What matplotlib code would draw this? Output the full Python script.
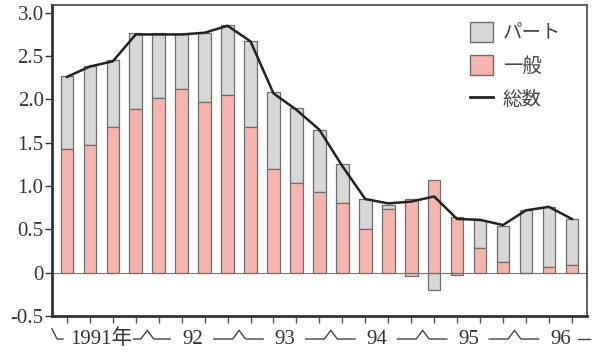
import matplotlib
matplotlib.use("Agg")
import matplotlib.pyplot as plt
import numpy as np
from matplotlib.patches import Patch
from matplotlib.lines import Line2D

plt.rcParams['font.family'] = ['Liberation Serif', 'Noto Sans CJK JP', 'DejaVu Sans']

# quarterly, 1991 Q1 .. 1996 Q3
general = [1.43, 1.47, 1.68, 1.89, 2.02, 2.12, 1.97, 2.05, 1.68, 1.20, 1.03, 0.93,
           0.81, 0.50, 0.73, 0.85, 1.07, 0.64, 0.29, 0.12, 0.00, 0.07, 0.09]
part = [0.84, 0.92, 0.77, 0.88, 0.75, 0.64, 0.80, 0.81, 1.00, 0.89, 0.87, 0.72,
        0.44, 0.35, 0.05, -0.04, -0.20, -0.03, 0.32, 0.42, 0.72, 0.69, 0.53]
total = [2.26, 2.38, 2.44, 2.75, 2.75, 2.75, 2.77, 2.85, 2.67, 2.07, 1.88, 1.65,
         1.23, 0.85, 0.80, 0.82, 0.88, 0.62, 0.61, 0.55, 0.72, 0.76, 0.62]
year_labels = ['1991年', '92', '93', '94', '95', '96']
year_sizes = [4, 4, 4, 4, 4, 4]
legend_labels = ['パート', '一般', '総数']

pink = '#f4b5ae'
grey = '#d7d7d7'
edge = '#6e6e6e'

fig = plt.figure(figsize=(5.92, 3.53), dpi=100)
ax = fig.add_axes([52/592, 1-316/353, (587-52)/592, (316-5)/353])

x = np.arange(len(general))
gen = np.array(general)
prt = np.array(part)
bottom_part = np.where(prt >= 0, gen, np.minimum(gen, 0))
w = 0.55
ax.bar(x, prt, bottom=bottom_part, width=w, color=grey, edgecolor=edge, linewidth=0.9, zorder=2)
ax.bar(x, gen, width=w, color=pink, edgecolor=edge, linewidth=0.9, zorder=3)
ax.plot(x, total, color='#222222', linewidth=1.8, zorder=4)
ax.axhline(0, color='#777777', linewidth=0.8, zorder=1)

ax.set_xlim(-0.65, 22.66)
ax.set_ylim(-0.5, 3.09)
ax.set_yticks([-0.5, 0, 0.5, 1.0, 1.5, 2.0, 2.5, 3.0])
ax.set_yticklabels(['-0.5', '0', '0.5', '1.0', '1.5', '2.0', '2.5', '3.0'])
ax.set_xticks(x)
ax.set_xticklabels([])
ax.tick_params(axis='y', direction='out', length=5, width=1, labelsize=15, colors='#333333', pad=1)
ax.tick_params(axis='x', direction='out', length=5, width=1, colors='#555555')

for s in ['left', 'bottom']:
    ax.spines[s].set_linewidth(2.0)
    ax.spines[s].set_color('#333333')
for s in ['top', 'right']:
    ax.spines[s].set_linewidth(1.2)
    ax.spines[s].set_color('#444444')

# year labels below axis
trans = ax.get_xaxis_transform()
start = 0
ylab = -0.076
yline = -0.074
yhat = -0.046
for lab, n in zip(year_labels, year_sizes):
    c = start + (n - 1) / 2
    ax.text(c, ylab, lab, transform=trans, ha='center', va='center', fontsize=15, color='#333333', clip_on=False)
    start += n

sep_kw = dict(transform=trans, color='#444444', linewidth=1.0, clip_on=False)
# leading hook
ax.plot([-0.65, -0.43, -0.17], [yhat + 0.005, yline, yline], **sep_kw)
# separators between years
bounds = np.cumsum(year_sizes)[:-1] - 0.5
for i, b in enumerate(bounds):
    left = 0.6 if i == 0 else 1.1
    right = 1.0 if i == 0 else 1.05
    ax.plot([b - left, b - 0.28, b, b + 0.28, b + right],
            [yline, yline, yhat, yline, yline], **sep_kw)
# trailing dash
ax.plot([22.28, 22.8], [yline, yline], **sep_kw)

handles = [Patch(facecolor=grey, edgecolor=edge, linewidth=1.0),
           Patch(facecolor=pink, edgecolor=edge, linewidth=1.0),
           Line2D([0], [0], color='#222222', linewidth=2)]
leg = ax.legend(handles, legend_labels, loc='upper left', bbox_to_anchor=(0.781, 0.945), frameon=False,
                handlelength=1.2, handleheight=1.2, labelspacing=0.6, handletextpad=0.5,
                borderpad=0, borderaxespad=0,
                prop={'family': ['Noto Sans CJK JP'], 'size': 14})
for t in leg.get_texts():
    t.set_color('#444444')

fig.savefig('out.png', dpi=100)
